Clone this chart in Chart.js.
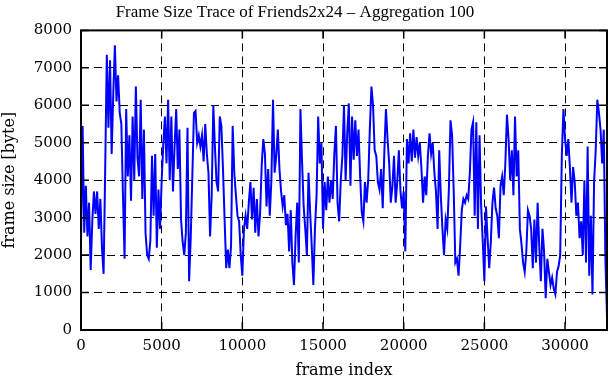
<!DOCTYPE html>
<html>
<head>
  <title>Frame Size Trace</title>
  <script src="https://cdn.jsdelivr.net/npm/chart.js@4/dist/chart.umd.min.js"></script>
  <style>
    body { margin: 0; background: #fff; }
    #wrap { width: 611px; height: 380px; }
  </style>
</head>
<body>
  <div id="wrap"><canvas id="trace-chart"></canvas></div>
  <script>
    // frames aggregated in blocks of 100, one value per block
    const aggregation = 100;
    const xTicks = [0, 5000, 10000, 15000, 20000, 25000, 30000];
    const yTicks = [0, 1000, 2000, 3000, 4000, 5000, 6000, 7000, 8000];
    const frameSize = [
      2300, 5450, 2600, 3850, 2500, 3400, 1600, 2900, 3700, 3100,
      3700, 2700, 3500, 2200, 1500, 4300, 7350, 5400, 7200, 4700,
      6300, 7600, 6100, 6800, 5800, 5500, 3600, 1900, 5900, 4100,
      5200, 3450, 5700, 4000, 6500, 4600, 4100, 6150, 3500, 5350,
      2600, 2000, 1900, 2400, 4650, 3050, 4700, 2200, 3750, 2700,
      4000, 4950, 5700, 4450, 6150, 4000, 5700, 3700, 4900, 5900,
      4300, 5350, 2950, 2350, 2000, 2600, 5400, 1300, 2450, 4100,
      5800, 5850, 5000, 5200, 4900, 5200, 4500, 5500, 4700, 4200,
      2500, 3600, 6000, 4900, 3950, 3700, 5700, 5450, 4300, 2950,
      1650, 2150, 1650, 2250, 5450, 4200, 3600, 3050, 2900, 2000,
      1450, 2700, 3050, 2700, 3400, 3950, 2950, 3800, 2600, 3500,
      2500, 3100, 4400, 5100, 4700, 3300, 4300, 3050, 4000, 6150,
      4200, 4650, 5350, 4300, 3700, 3300, 3600, 2800, 3100, 2100,
      3200, 1800, 1200, 2500, 3400, 1800, 5900, 4500, 3300, 2700,
      2000, 4200, 3150, 2250, 1200, 2700, 3600, 5700, 4450, 5000,
      2700, 3950, 3200, 4100, 3400, 4000, 3500, 4700, 5450, 3400,
      2900, 4000, 4650, 6000, 4000, 5250, 6050, 3850, 5700, 4550,
      5600, 4650, 5350, 4100, 3150, 2900, 3950, 3400, 4000, 5350,
      6500, 6000, 4800, 4650, 3950, 3750, 4300, 3250, 4750, 5900,
      5100, 4450, 3400, 3850, 4650, 3400, 3950, 4800, 3700, 3250,
      3700, 2100, 5100, 4450, 5250, 4500, 5350, 4600, 5150, 4650,
      5000, 4300, 3400, 4100, 3600, 4650, 5250, 4700, 5000, 4200,
      3700, 2700, 4800, 3600, 2700, 2000, 2950, 2700, 3750, 5600,
      5200, 3700, 1800, 1900, 1450, 2250, 3200, 3500, 3400, 3600,
      3500, 4200, 5350, 5550, 3050, 5550, 2700, 5200, 3300, 2350,
      1300, 3300, 2450, 1650, 2350, 3400, 3800, 3250, 3050, 2450,
      3850, 4100, 3600, 4450, 5750, 5100, 4000, 4800, 3600, 5700,
      4100, 4800, 2700, 2300, 1800, 1550, 2100, 3200, 3050, 2700,
      1650, 2950, 1800, 3400, 2250, 1300, 2700, 2100, 850, 1900,
      1550, 1200, 1400, 1100, 950, 1550, 1700, 2000, 4650, 5900,
      5100, 4650, 5100, 4350, 3400, 4350, 3950, 3050, 3400, 2450,
      2900, 2000, 4000, 1800, 4900, 1450, 3050, 950, 3950, 4800,
      6150, 5800, 5350, 4450, 5350, 1900, 350
    ];
    const frameIndex = frameSize.map((_, i) => i * aggregation);

    // gnuplot style box with inward tics on all four sides
    const frameBox = {
      id: 'frameBox',
      afterDatasetsDraw(chart) {
        const { ctx, chartArea: a, scales: { x, y } } = chart;
        ctx.save();
        ctx.strokeStyle = '#000';
        ctx.lineWidth = 1.5;
        ctx.beginPath();
        xTicks.forEach(v => {
          const px = x.getPixelForValue(v);
          ctx.moveTo(px, a.bottom); ctx.lineTo(px, a.bottom - 8);
          ctx.moveTo(px, a.top); ctx.lineTo(px, a.top + 8);
        });
        yTicks.forEach(v => {
          const py = y.getPixelForValue(v);
          ctx.moveTo(a.left, py); ctx.lineTo(a.left + 8, py);
          ctx.moveTo(a.right, py); ctx.lineTo(a.right - 8, py);
        });
        ctx.stroke();
        ctx.lineWidth = 2;
        ctx.strokeRect(a.left, a.top, a.width, a.height);
        ctx.restore();
      }
    };

    const tickFont = { family: 'DejaVu Serif', size: 15 };
    const titleFont = { family: 'DejaVu Serif', size: 16 };

    new Chart(document.getElementById('trace-chart'), {
      type: 'line',
      data: {
        labels: frameIndex,
        datasets: [{
          label: 'frame size',
          data: frameSize.map((v, i) => ({ x: frameIndex[i], y: v })),
          borderColor: '#0000ff',
          borderWidth: 2,
          pointRadius: 0,
          tension: 0,
          fill: false
        }]
      },
      options: {
        responsive: true,
        maintainAspectRatio: false,
        animation: false,
        layout: { padding: { left: 0, right: 4, top: 0, bottom: 0 } },
        plugins: {
          legend: { display: false },
          tooltip: { enabled: false },
          title: {
            display: true,
            // trailing spaces nudge the centred title a little to the left, like the original
            text: 'Frame Size Trace of Friends2x24 \u2013 Aggregation 100    ',
            color: '#000',
            font: { family: 'Liberation Serif', size: 17, weight: 'normal' },
            padding: { top: 2, bottom: 8 }
          }
        },
        scales: {
          x: {
            type: 'linear',
            min: 0,
            max: 32600,
            afterFit: s => { s.height = 50; },
            afterBuildTicks: s => { s.ticks = xTicks.map(v => ({ value: v })); },
            grid: { color: '#000', lineWidth: 1, drawTicks: false },
            border: { display: false, dash: [8, 5] },
            ticks: { color: '#000', font: tickFont, padding: 7, maxRotation: 0, callback: v => String(v) },
            title: { display: true, text: 'frame index', color: '#000', font: titleFont, padding: 0 }
          },
          y: {
            min: 0,
            max: 8000,
            afterFit: s => { s.width = 81; },
            afterBuildTicks: s => { s.ticks = yTicks.map(v => ({ value: v })); },
            grid: { color: '#000', lineWidth: 1, drawTicks: false },
            border: { display: false, dash: [8, 5] },
            ticks: { color: '#000', font: tickFont, padding: 9, callback: v => String(v) },
            title: { display: true, text: 'frame size [byte]', color: '#000', font: titleFont, padding: 0 }
          }
        }
      },
      plugins: [frameBox]
    });
  </script>
</body>
</html>
